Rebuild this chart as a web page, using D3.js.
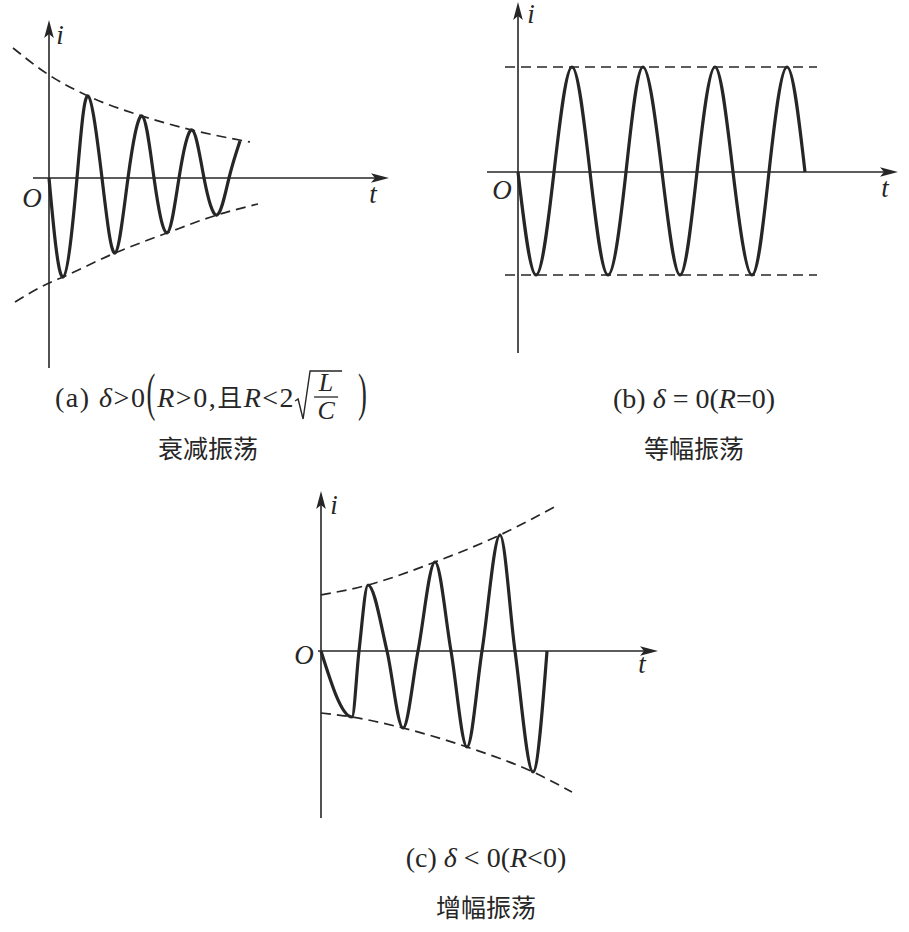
<!DOCTYPE html>
<html><head><meta charset="utf-8">
<script src="https://cdn.jsdelivr.net/npm/d3@7"></script>
<style>body{margin:0;background:#fff}svg{display:block}</style>
</head><body>
<svg id="fig" width="909" height="932"></svg>
<script>
// ---------- DATA (t in time units, i in current units) ----------
// (a) damped oscillation: extrema and zero crossings
const aT = [0, 1.4, 2.8, 3.9, 5.3, 6.6, 7.9, 9.3, 10.5, 11.8, 13.0, 14.3, 15.5, 16.8, 18.0, 19.1];
const aI = [0, -0.99, 0, 0.82, 0, -0.75, 0, 0.62, 0, -0.55, 0, 0.48, 0, -0.37, 0, 0.37];
const aUpT = [-3.6, 0, 3.9, 9.3, 14.3, 20.1];
const aUpI = [1.30, 1.03, 0.82, 0.62, 0.48, 0.36];
const aLoT = [-3.4, 0, 1.4, 6.6, 11.8, 16.8, 20.9];
const aLoI = [-1.24, -1.05, -0.99, -0.75, -0.55, -0.37, -0.26];
// (b) constant amplitude
const bT = [0, 1.8, 3.6, 5.4, 7.2, 9.0, 10.8, 12.5, 14.4, 16.2, 17.9, 19.7, 21.5, 23.4, 25.1, 26.9, 28.7];
const bI = [0, -1.03, 0, 1.05, 0, -1.03, 0, 1.05, 0, -1.03, 0, 1.05, 0, -1.03, 0, 1.05, 0];
const bEnvT = [-1.3, 29.9];
const bUpI = [1.05, 1.05];
const bLoI = [-1.03, -1.03];
// (c) growing oscillation
const cT = [0, 3.1, 3.8, 4.7, 6.6, 8.2, 9.7, 11.4, 13.0, 14.6, 16.1, 17.9, 19.4, 21.2, 22.6];
const cI = [0, -0.66, 0, 0.66, 0, -0.77, 0, 0.89, 0, -0.96, 0, 1.16, 0, -1.21, 0];
const cUpT = [0, 4.7, 11.4, 17.9, 23.7];
const cUpI = [0.56, 0.66, 0.89, 1.16, 1.46];
const cLoT = [0, 3.1, 8.2, 14.6, 21.2, 25.1];
const cLoI = [-0.62, -0.66, -0.77, -0.96, -1.21, -1.41];
// labels
const axisLabels = ["i", "O", "t"];
const capA2 = "衰减振荡", capB1 = ["(b) ", "δ", " = 0(", "R", "=0)"], capB2 = "等幅振荡";
const capC1 = ["(c) ", "δ", " < 0(", "R", "<0)"], capC2 = "增幅振荡";

// ---------- DRAWING ----------
const svg = d3.select("#fig");
const INK = "#262626";
const SERIF = "'Liberation Serif', Tinos, 'Times New Roman', Times, 'DejaVu Serif', 'Noto Serif', serif";
const CJK = "'Noto Sans CJK SC', 'Noto Sans CJK JP', sans-serif";
const zip = (t, v) => t.map((d, k) => [d, v[k]]);

function panel(cfg) {
  const g = svg.append("g");
  const x = d3.scaleLinear().domain(cfg.xd).range(cfg.xr);
  const y = d3.scaleLinear().domain(cfg.yd).range(cfg.yr);
  g.append("line").attr("x1", x(cfg.xd[0])).attr("x2", x(cfg.xd[1]) - 8)
    .attr("y1", y(0)).attr("y2", y(0)).attr("stroke", INK).attr("stroke-width", 1.6);
  g.append("line").attr("x1", x(0)).attr("x2", x(0))
    .attr("y1", y(cfg.yd[0])).attr("y2", y(cfg.yd[1]) + 8).attr("stroke", INK).attr("stroke-width", 1.6);
  const tx = x(cfg.xd[1]), ty = y(0);
  g.append("path").attr("d", `M${tx},${ty} L${tx-18},${ty-4.8} L${tx-14},${ty} L${tx-18},${ty+4.8} Z`).attr("fill", INK);
  const ux = x(0), uy = y(cfg.yd[1]);
  g.append("path").attr("d", `M${ux},${uy} L${ux-4.8},${uy+18} L${ux},${uy+14} L${ux+4.8},${uy+18} Z`).attr("fill", INK);
  const env = d3.line().x(d => x(d[0])).y(d => y(d[1])).curve(d3.curveMonotoneX);
  cfg.envs.forEach(e => g.append("path").attr("d", env(e)).attr("fill", "none")
    .attr("stroke", INK).attr("stroke-width", 1.7).attr("stroke-dasharray", "10,6"));
  const line = d3.line().x(d => x(d[0])).y(d => y(d[1])).curve(cfg.curve);
  g.append("path").attr("d", line(cfg.data)).attr("fill", "none")
    .attr("stroke", INK).attr("stroke-width", 3.2).attr("stroke-linejoin", "round");
  cfg.labels.forEach((p, k) => g.append("text").text(axisLabels[k]).attr("x", p[0]).attr("y", p[1])
    .attr("text-anchor", "middle").attr("dominant-baseline", "central")
    .style("font-family", SERIF).attr("font-style", "italic").attr("font-size", 27).attr("fill", INK));
}

panel({xd: [-1.6, 34], xr: [33, 389], yd: [-1.9, 1.58], yr: [368, 20],
  data: zip(aT, aI), curve: d3.curveNatural,
  envs: [zip(aUpT, aUpI), zip(aLoT, aLoI)],
  labels: [[60, 35], [32, 198], [373, 194]]});
panel({xd: [-3.1, 38], xr: [487, 898], yd: [-1.81, 1.70], yr: [353, 2],
  data: zip(bT, bI), curve: d3.curveNatural,
  envs: [zip(bEnvT, bUpI), zip(bEnvT, bLoI)],
  labels: [[531, 14], [502, 190], [885, 188]]});
panel({xd: [-0.3, 33.7], xr: [318, 658], yd: [-1.67, 1.60], yr: [818, 491],
  data: zip(cT, cI), curve: d3.curveMonotoneX,
  envs: [zip(cUpT, cUpI), zip(cLoT, cLoI)],
  labels: [[334, 505], [304, 655], [642, 664]]});

// ---------- CAPTIONS ----------
function richLine(parts, cx, base, fs) {
  const t = svg.append("text").attr("y", base).style("font-family", SERIF)
    .attr("font-size", fs).attr("fill", INK).attr("text-anchor", "middle").attr("x", cx);
  parts.forEach((p, k) => t.append("tspan").text(p).attr("font-style", k % 2 ? "italic" : "normal"));
  return t;
}
function cjkLine(s, cx, base) {
  svg.append("text").text(s).attr("x", cx).attr("y", base).attr("text-anchor", "middle")
    .style("font-family", CJK).attr("font-size", 25).attr("fill", INK);
}
richLine(capB1, 694, 408, 28);
cjkLine(capB2, 694, 458);
richLine(capC1, 486, 867, 28);
cjkLine(capC2, 486, 917);
cjkLine(capA2, 208, 458);

// caption (a) with radical and fraction
(function () {
  const fs = 28, base = 407, mid = 397;
  let cx = 55;
  const put = (parts, xx) => {
    const t = svg.append("text").attr("x", xx).attr("y", base).style("font-family", SERIF)
      .attr("font-size", fs).attr("fill", INK).attr("letter-spacing", 1.5);
    parts.forEach(p => t.append("tspan").text(p[0]).attr("font-style", p[1] ? "italic" : "normal")
      .style("font-family", p[2] ? CJK : SERIF).attr("font-size", p[2] ? 25 : fs));
    return t.node().getComputedTextLength();
  };
  const bigParen = (ch, xx) => {
    svg.append("text").text(ch).attr("transform", `translate(${xx},${mid}) scale(0.95,1.9)`)
      .attr("y", 7).style("font-family", SERIF).attr("font-size", fs).attr("fill", INK);
    return 0.333 * fs * 0.95;
  };
  cx += put([["(a) "], ["δ", 1], [">0"]], cx);
  cx += bigParen("(", cx) + 2;
  cx += put([["R", 1], [">0,"], ["且", 0, 1], ["R", 1], ["<2"]], cx);
  const r0 = cx, fw = 24;
  svg.append("path").attr("d", `M${r0},${base-6} L${r0+3},${base-8} L${r0+8},${base+12} L${r0+15},${mid-26} L${r0+15+fw+8},${mid-26}`)
    .attr("fill", "none").attr("stroke", INK).attr("stroke-width", 1.4);
  const fc = r0 + 15 + 4 + fw / 2;
  svg.append("line").attr("x1", fc - fw / 2).attr("x2", fc + fw / 2).attr("y1", mid).attr("y2", mid)
    .attr("stroke", INK).attr("stroke-width", 1.3);
  svg.append("text").text("L").attr("x", fc).attr("y", mid - 6).attr("text-anchor", "middle")
    .style("font-family", SERIF).attr("font-style", "italic").attr("font-size", 26).attr("fill", INK);
  svg.append("text").text("C").attr("x", fc).attr("y", mid + 22).attr("text-anchor", "middle")
    .style("font-family", SERIF).attr("font-style", "italic").attr("font-size", 26).attr("fill", INK);
  cx = r0 + 15 + fw + 24;
  bigParen(")", cx);
})();
</script>
</body></html>
